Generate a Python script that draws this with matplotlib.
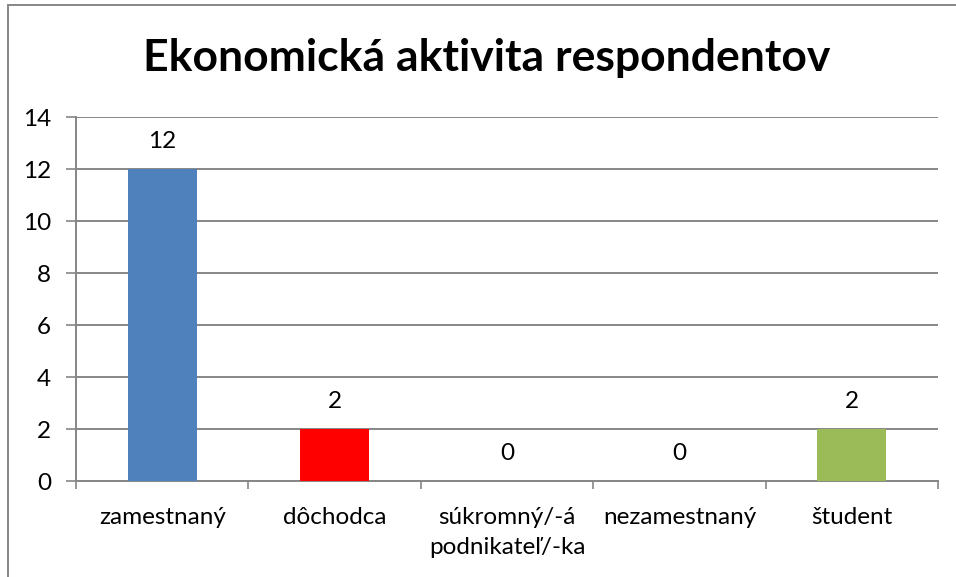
import numpy as np
import matplotlib
matplotlib.use("Agg")
import matplotlib.pyplot as plt
from matplotlib.patches import Rectangle

# chart data
categories = ["zamestnaný", "dôchodca", "súkromný/-á\npodnikateľ/-ka", "nezamestnaný", "študent"]
counts = [12, 2, 0, 0, 2]
bar_colors = ["#4F81BD", "#FF0000", "#9BBB59", "#9BBB59", "#9BBB59"]
title = "Ekonomická aktivita respondentov"
y_ticks = [0, 2, 4, 6, 8, 10, 12, 14]

plt.rcParams["font.family"] = ["Lato", "DejaVu Sans"]
grey = "#868686"
fs = 17.5

fig = plt.figure(figsize=(9.56, 5.77), dpi=100)
ax = fig.add_axes([76 / 956, 1 - 481 / 577, (938 - 76) / 956, (481 - 117) / 577])

x = np.arange(len(categories))
ax.bar(x, counts, width=0.4, color=bar_colors, zorder=3)

# value labels above the bars
for xi, v in zip(x, counts):
    ax.annotate(str(v), (xi, v), xytext=(0, 19.5), textcoords="offset points",
                ha="center", va="center", fontsize=fs, color="black")

ax.set_xlim(-0.5, len(categories) - 0.5)
ax.set_ylim(0, 14)
ax.set_yticks(y_ticks)
ax.yaxis.grid(True, color=grey, linewidth=1.4, zorder=0)
ax.set_axisbelow(True)

# category separators as major ticks, names as minor ticks
ax.set_xticks(np.arange(len(categories) + 1) - 0.5, labels=[])
ax.set_xticks(x, labels=categories, minor=True)
ax.tick_params(axis="x", which="major", length=6, width=1.2, color=grey)
ax.tick_params(axis="x", which="minor", length=0, pad=19, labelsize=fs)
for lbl in ax.get_xticklabels(minor=True):
    lbl.set_linespacing(1.5)
ax.tick_params(axis="y", length=7, width=1.2, color=grey, pad=11, labelsize=fs)

for side in ["top", "right"]:
    ax.spines[side].set_visible(False)
for side in ["left", "bottom"]:
    ax.spines[side].set_color(grey)
    ax.spines[side].set_linewidth(1.4)

fig.text(487 / 956, 1 - 58 / 577, title, ha="center", va="center",
         fontsize=32, fontweight="bold")

# outer chart frame (runs past the right and bottom edge)
fig.add_artist(Rectangle((7.5 / 956, -0.05), 1.1, 0.05 + 1 - 4.5 / 577,
                         transform=fig.transFigure, fill=False,
                         edgecolor=grey, linewidth=1.4))

fig.savefig("out.png", dpi=100)
